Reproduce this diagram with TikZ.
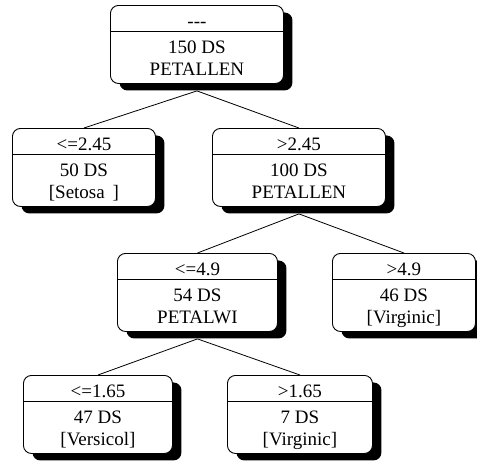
\documentclass[tikz,border=0pt]{standalone}
\usepackage{fontspec}
\setmainfont{Liberation Serif}
\usetikzlibrary{shadows}
\tikzset{
  treebox/.style={draw=black, line width=0.9pt, fill=white, rounded corners=8pt,
    inner sep=0pt, minimum height=78pt,
    drop shadow={shadow xshift=9pt, shadow yshift=-7pt, opacity=1, fill=black}},
  txt/.style={anchor=base, inner sep=0pt, font=\fontsize{19pt}{22pt}\selectfont},
  divider/.style={line width=0.9pt},
  edge/.style={line width=0.8pt}
}
\newcommand{\tnode}[7]{%
  \node[treebox, anchor=north west, minimum width={(#3-#2)*1pt}] (#1) at (#2,#4) {};
  \draw[divider] ([yshift=-26pt]#1.north west) -- ([yshift=-26pt]#1.north east);
  \node[txt] (#1-a) at ([yshift=-22pt]#1.north) {#5};
  \node[txt] (#1-b) at ([yshift=-48pt]#1.north) {#6};
  \node[txt] (#1-c) at ([yshift=-70pt]#1.north) {#7};
  \coordinate (#1-out) at ([yshift=-7pt]#1.south);
}
\begin{document}
\begin{tikzpicture}[x=1pt,y=-1pt]
\useasboundingbox (0,0) rectangle (477,461);
\tnode{root}{110}{283}{5}{-{}-{}-}{150 DS}{PETALLEN}
\tnode{l}{12}{155}{128}{<=2.45}{50 DS}{[Setosa\ \,]}
\tnode{r}{212}{385}{128}{>2.45}{100 DS}{PETALLEN}
\tnode{rl}{117}{277}{253}{<=4.9}{54 DS}{PETALWI}
\tnode{rr}{332}{475}{253}{>4.9}{46 DS}{[Virginic]}
\tnode{rll}{23}{172}{375}{<=1.65}{47 DS}{[Versicol]}
\tnode{rlr}{227}{372}{375}{>1.65}{7 DS}{[Virginic]}
\draw[edge] (root-out) -- (l.north);
\draw[edge] (root-out) -- (r.north);
\draw[edge] (r-out) -- (rl.north);
\draw[edge] (r-out) -- (rr.north);
\draw[edge] (rl-out) -- (rll.north);
\draw[edge] (rl-out) -- (rlr.north);
\end{tikzpicture}
\end{document}
